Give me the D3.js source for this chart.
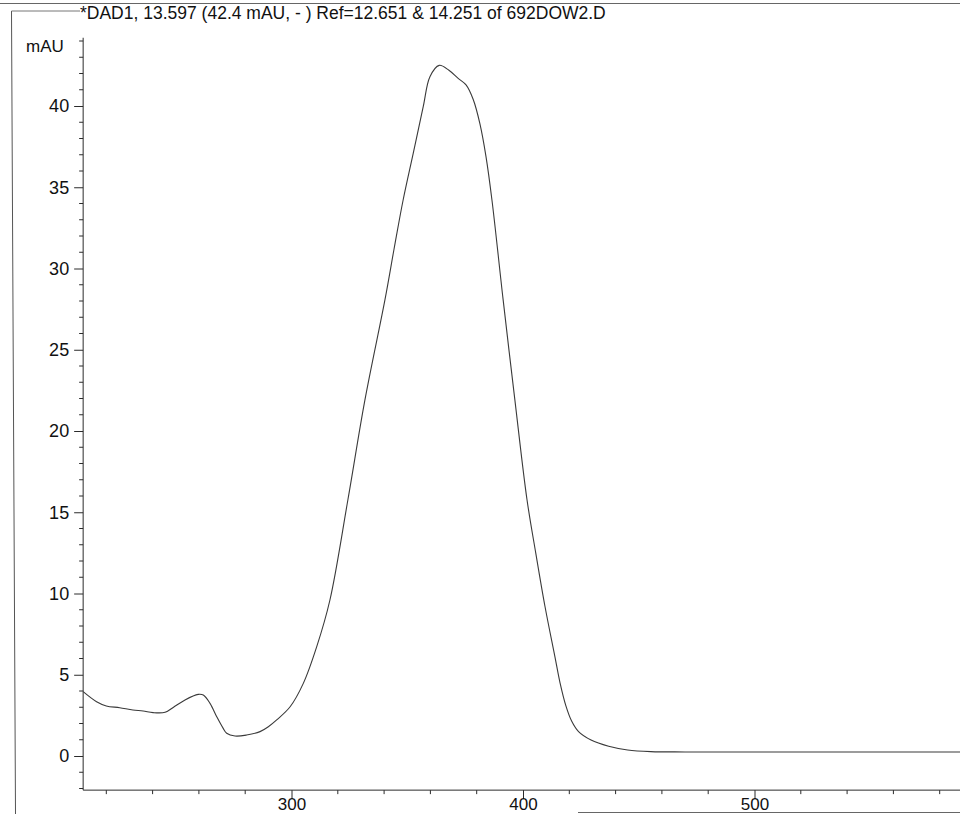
<!DOCTYPE html>
<html>
<head>
<meta charset="utf-8">
<script src="https://cdn.jsdelivr.net/npm/d3@7"></script>
<style>
  html, body { margin: 0; padding: 0; background: #fff; }
  svg { display: block; font-family: "Liberation Sans", Arial, sans-serif; }
</style>
</head>
<body>
<svg id="chart" width="960" height="814"></svg>
<script>
// UV-Vis spectrum taken from the DAD at the apex of the peak
const titleText = "*DAD1, 13.597 (42.4 mAU, - ) Ref=12.651 & 14.251 of 692DOW2.D";
const yUnit = "mAU";

// wavelength (nm)
const wavelength = [210, 215.8, 220, 225.8, 231.5, 235.9, 240.2, 245.4, 248.9, 254, 259.7, 261.9,
  264.8, 267.7, 270.5, 272, 275.6, 280.6, 286.4, 290, 293.6, 299.4, 305.1, 310.9, 316.6, 324.4,
  331.7, 340.4, 344.3, 348.2, 352.6, 356.9, 359.8, 363.8, 368, 372, 375.4, 378.5, 381.4, 384,
  386.6, 391.4, 396.5, 401.7, 405.5, 409.5, 413.8, 416, 418.5, 421, 424, 429.4, 437, 445.2, 455.2,
  470, 500, 550, 600];
// absorbance (mAU)
const absorbance = [3.96, 3.34, 3.08, 2.97, 2.83, 2.77, 2.67, 2.69, 2.99, 3.45, 3.79, 3.75,
  3.24, 2.42, 1.70, 1.40, 1.23, 1.29, 1.50, 1.80, 2.22, 3.03, 4.47, 6.73, 9.6, 15.8,
  21.9, 28.1, 31.2, 34.2, 37.1, 39.96, 41.8, 42.5, 42.2, 41.7, 41.3, 40.4, 38.9, 36.9,
  34.2, 28.1, 21.9, 15.8, 12.5, 9.2, 6.1, 4.5, 3.1, 2.15, 1.5, 0.98, 0.6, 0.37, 0.27,
  0.25, 0.25, 0.25, 0.25];

const xMajor = [300, 400, 500];
const yMajor = [0, 5, 10, 15, 20, 25, 30, 35, 40];

const svg = d3.select("#chart");
const ink = "#2b2b2b";

const x = d3.scaleLinear().domain([300, 500]).range([291.5, 754.5]);
const y = d3.scaleLinear().domain([0, 40]).range([756, 106]);

const xLo = 210, yLo = -2.1, yHi = 44.2;
const axisX = x(xLo), axisY = y(yLo);

// outer frame fragments and header rule
svg.append("line").attr("x1", 0).attr("x2", 960).attr("y1", 3.5).attr("y2", 3.5)
  .attr("stroke", "#666").attr("stroke-width", 1);
svg.append("line").attr("x1", 11.5).attr("x2", 15.5).attr("y1", 11).attr("y2", 814)
  .attr("stroke", "#555").attr("stroke-width", 1);
svg.append("line").attr("x1", 11.5).attr("x2", 80).attr("y1", 11).attr("y2", 11)
  .attr("stroke", "#777").attr("stroke-width", 1);
svg.append("line").attr("x1", 578).attr("x2", 960).attr("y1", 812.5).attr("y2", 812.5)
  .attr("stroke", "#666").attr("stroke-width", 1);

// title
svg.append("text").attr("x", 80).attr("y", 19)
  .attr("font-size", 17.5).attr("fill", "#111").text(titleText);

// y axis
const yAxis = d3.axisLeft(y).tickValues(yMajor).tickSize(9).tickPadding(5);
const gy = svg.append("g").attr("transform", `translate(${axisX},0)`).call(yAxis);
gy.select(".domain").remove();
gy.selectAll(".tick line").attr("stroke", ink);
gy.selectAll(".tick text").attr("font-size", 18).attr("fill", "#111")
  .attr("font-family", "Liberation Sans, Arial, sans-serif");
const yMinor = d3.range(-2, 45, 1).filter(v => v % 5 !== 0);
svg.append("g").selectAll("line").data(yMinor).join("line")
  .attr("x1", axisX - 4).attr("x2", axisX)
  .attr("y1", d => y(d)).attr("y2", d => y(d))
  .attr("stroke", ink).attr("stroke-width", 1);
svg.append("line").attr("x1", axisX).attr("x2", axisX)
  .attr("y1", y(yHi)).attr("y2", axisY).attr("stroke", ink);

svg.append("text").attr("x", 26).attr("y", 52).attr("font-size", 17)
  .attr("fill", "#111").text(yUnit);

// x axis
const xAxis = d3.axisBottom(x).tickValues(xMajor).tickSize(9).tickPadding(1);
const gx = svg.append("g").attr("transform", `translate(0,${axisY})`).call(xAxis);
gx.select(".domain").remove();
gx.selectAll(".tick line").attr("stroke", ink);
gx.selectAll(".tick text").attr("font-size", 17).attr("fill", "#111")
  .attr("dy", "0.6em")
  .attr("font-family", "Liberation Sans, Arial, sans-serif");
const xMinor = d3.range(220, 601, 20).filter(v => v % 100 !== 0);
svg.append("g").selectAll("line").data(xMinor).join("line")
  .attr("x1", d => x(d)).attr("x2", d => x(d))
  .attr("y1", axisY).attr("y2", axisY + 4)
  .attr("stroke", ink).attr("stroke-width", 1);
svg.append("line").attr("x1", axisX).attr("x2", 960)
  .attr("y1", axisY).attr("y2", axisY).attr("stroke", ink);

// spectrum trace
const pts = wavelength.map((w, i) => [w, absorbance[i]]);
const line = d3.line().x(d => x(d[0])).y(d => y(d[1])).curve(d3.curveCatmullRom.alpha(0.5));
svg.append("path").datum(pts).attr("d", line)
  .attr("fill", "none").attr("stroke", "#3a3a3a").attr("stroke-width", 1.1);
</script>
</body>
</html>
